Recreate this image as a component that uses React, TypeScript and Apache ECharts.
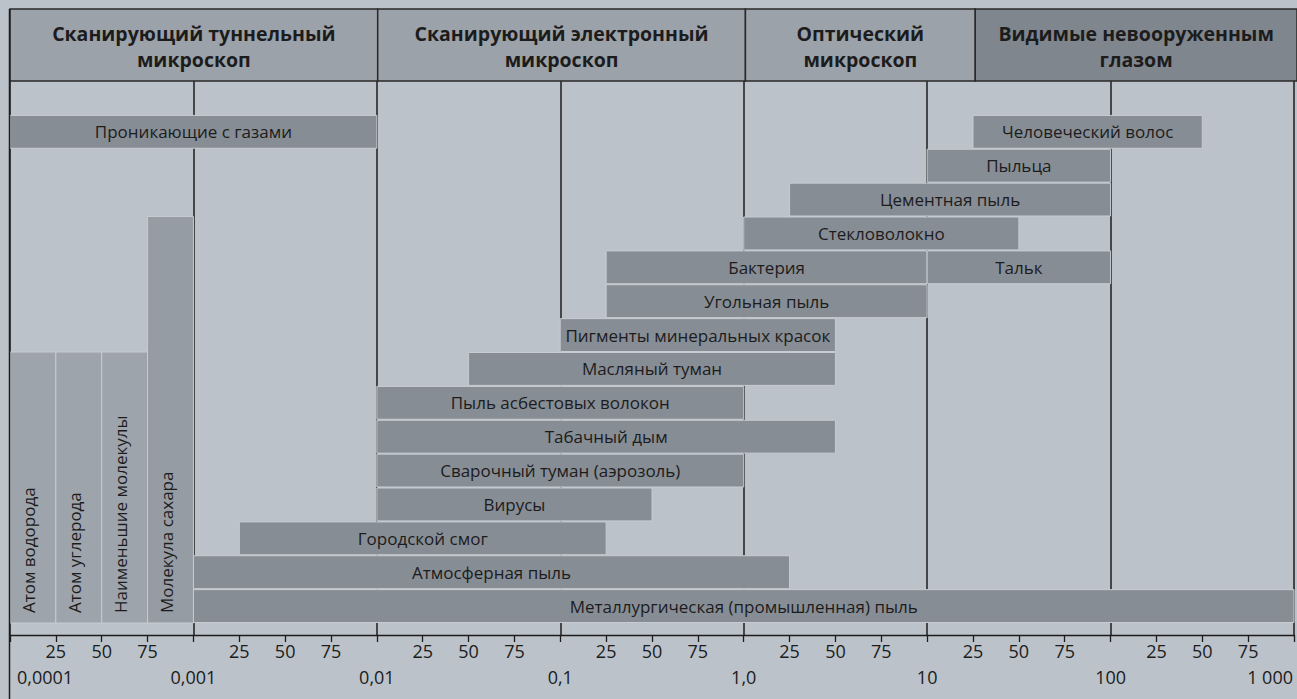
import React, { useEffect, useRef } from "react";
import * as echarts from "echarts";

// ---- Data ----
const decadeLabels = ["0,0001", "0,001", "0,01", "0,1", "1,0", "10", "100", "1 000"];
const minorLabels = ["25", "50", "75"];

const headerTitles = [
  "Сканирующий туннельный\nмикроскоп",
  "Сканирующий электронный\nмикроскоп",
  "Оптический\nмикроскоп",
  "Видимые невооруженным\nглазом",
];
const headerStarts = [0, 2, 4, 5.25];
const headerEnds = [2, 4, 5.25, 7];

const barNames = [
  "Проникающие с газами",
  "Человеческий волос",
  "Пыльца",
  "Цементная пыль",
  "Стекловолокно",
  "Бактерия",
  "Тальк",
  "Угольная пыль",
  "Пигменты минеральных красок",
  "Масляный туман",
  "Пыль асбестовых волокон",
  "Табачный дым",
  "Сварочный туман (аэрозоль)",
  "Вирусы",
  "Городской смог",
  "Атмосферная пыль",
  "Металлургическая (промышленная) пыль",
];
const barStarts = [0, 5.25, 5, 4.25, 4, 3.25, 5, 3.25, 3, 2.5, 2, 2, 2, 2, 1.25, 1, 1];
const barEnds = [2, 6.5, 6, 6, 5.5, 5, 6, 5, 4.5, 4.5, 4, 4.5, 4, 3.5, 3.25, 4.25, 7];
const barRows = [1, 1, 2, 3, 4, 5, 5, 6, 7, 8, 9, 10, 11, 12, 13, 14, 15];

const columnNames = ["Атом водорода", "Атом углерода", "Наименьшие молекулы", "Молекула сахара"];
const columnStarts = [0, 0.25, 0.5, 0.75];
const columnEnds = [0.25, 0.5, 0.75, 1];
const columnTopRows = [8, 8, 8, 4];
const columnBottomRows = [16, 16, 16, 16];

const ROWS_MAX = 16.354;
const FONT = "'Open Sans', 'DejaVu Sans', sans-serif";
const INK = "#1c1c1c";

export default function App() {
  const ref = useRef<HTMLDivElement>(null);

  useEffect(() => {
    document.body.style.margin = "0";
    const chart = echarts.init(ref.current!, null, { renderer: "svg" });

    const barData = barNames.map((_, i) => [barStarts[i], barEnds[i], barRows[i], barRows[i] + 1]);
    const colData = columnNames.map((_, i) => [columnStarts[i], columnEnds[i], columnTopRows[i], columnBottomRows[i]]);
    const headData = headerTitles.map((_, i) => [headerStarts[i], headerEnds[i], 0, 1]);

    const hidden = {
      show: false,
      axisLine: { show: false },
      axisTick: { show: false },
      axisLabel: { show: false },
      splitLine: { show: false },
    };

    const option: any = {
      animation: false,
      backgroundColor: "#bbc2c9",
      grid: [
        { left: 10, top: 81, width: 1290, height: 554 },
        { left: 10, top: 9, width: 1290, height: 72 },
      ],
      xAxis: [
        {
          type: "value",
          gridIndex: 0,
          min: 0,
          max: 7,
          interval: 0.25,
          position: "bottom",
          axisLine: { show: true, onZero: false, lineStyle: { color: INK, width: 1.3 } },
          axisTick: { show: true, inside: false, length: 7, lineStyle: { color: INK, width: 1.3 } },
          splitLine: { show: false },
          minorTick: { show: false },
          axisLabel: {
            margin: 7,
            color: INK,
            fontSize: 18,
            fontFamily: FONT,
            formatter: (v: number) => {
              const f = Math.round((v - Math.floor(v)) * 4);
              return f === 0 ? "" : minorLabels[f - 1];
            },
          },
        },
        {
          type: "value",
          gridIndex: 0,
          min: 0,
          max: 7,
          interval: 1,
          position: "bottom",
          axisLine: { show: false, onZero: false },
          axisTick: { show: false },
          minorTick: { show: false },
          splitLine: { show: true, lineStyle: { color: INK, width: 1.5 } },
          axisLabel: {
            margin: 33,
            color: INK,
            fontSize: 18,
            fontFamily: FONT,
            alignMinLabel: "left",
            alignMaxLabel: "right",
            formatter: (v: number) => {
              const i = Math.round(v);
              if (i === 0) return "{first|" + decadeLabels[i] + "}";
              if (i === decadeLabels.length - 1) return "{last|" + decadeLabels[i] + "}";
              return decadeLabels[i];
            },
            rich: {
              first: { padding: [0, 0, 0, 7], fontSize: 18, color: INK, fontFamily: FONT },
              last: { padding: [0, 1, 0, 0], fontSize: 18, color: INK, fontFamily: FONT },
            },
          },
        },
        { type: "value", gridIndex: 1, min: 0, max: 7, position: "top", ...hidden },
      ],
      yAxis: [
        {
          type: "value",
          gridIndex: 0,
          min: 0,
          max: ROWS_MAX,
          inverse: true,
          axisLine: { show: false },
          axisTick: { show: false },
          axisLabel: { show: false },
          splitLine: { show: false },
        },
        { type: "value", gridIndex: 1, min: 0, max: 1, inverse: true, ...hidden },
      ],
      graphic: [
        {
          type: "line",
          shape: { x1: 9.5, y1: 9, x2: 9.5, y2: 699 },
          style: { stroke: INK, lineWidth: 1.5 },
          z: 100,
        },
      ],
      series: [
        {
          type: "custom",
          name: "header",
          xAxisIndex: 2,
          yAxisIndex: 1,
          clip: false,
          data: headData,
          encode: { x: [0, 1], y: [2, 3] },
          renderItem: (params: any, api: any) => {
            const i = params.dataIndex;
            const p0 = api.coord([api.value(0), api.value(2)]);
            const p1 = api.coord([api.value(1), api.value(3)]);
            return {
              type: "group",
              children: [
                {
                  type: "rect",
                  shape: { x: p0[0], y: p0[1], width: p1[0] - p0[0], height: p1[1] - p0[1] },
                  style: { fill: i === 3 ? "#80868e" : "#9ca2a9", stroke: "#2a2a2a", lineWidth: 1.5 },
                },
                {
                  type: "text",
                  style: {
                    text: headerTitles[i],
                    x: (p0[0] + Math.min(p1[0], 1297)) / 2,
                    y: (p0[1] + p1[1]) / 2 + 1,
                    align: "center",
                    verticalAlign: "middle",
                    fontFamily: FONT,
                    fontWeight: "bold",
                    fontSize: 19.5,
                    lineHeight: 26,
                    fill: INK,
                  },
                },
              ],
            };
          },
        },
        {
          type: "custom",
          name: "bars",
          xAxisIndex: 0,
          yAxisIndex: 0,
          clip: false,
          data: barData,
          encode: { x: [0, 1], y: [2, 3] },
          z: 3,
          renderItem: (params: any, api: any) => {
            const i = params.dataIndex;
            const p0 = api.coord([api.value(0), api.value(2)]);
            const p1 = api.coord([api.value(1), api.value(3)]);
            const right = Math.min(p1[0], 1297);
            return {
              type: "group",
              children: [
                {
                  type: "rect",
                  shape: { x: p0[0], y: p0[1] + 0.5, width: p1[0] - p0[0], height: p1[1] - p0[1] - 1 },
                  style: { fill: "#878d95", stroke: "#c6ccd2", lineWidth: 1 },
                },
                {
                  type: "text",
                  style: {
                    text: barNames[i],
                    x: (p0[0] + right) / 2,
                    y: (p0[1] + p1[1]) / 2,
                    align: "center",
                    verticalAlign: "middle",
                    fontFamily: FONT,
                    fontSize: 17,
                    fill: INK,
                  },
                },
              ],
            };
          },
        },
        {
          type: "custom",
          name: "columns",
          xAxisIndex: 0,
          yAxisIndex: 0,
          clip: false,
          data: colData,
          encode: { x: [0, 1], y: [2, 3] },
          z: 3,
          renderItem: (params: any, api: any) => {
            const i = params.dataIndex;
            const p0 = api.coord([api.value(0), api.value(2)]);
            const p1 = api.coord([api.value(1), api.value(3)]);
            const bottom = api.coord([0, 16])[1];
            return {
              type: "group",
              children: [
                {
                  type: "rect",
                  shape: { x: p0[0], y: p0[1], width: p1[0] - p0[0], height: bottom - p0[1] },
                  style: { fill: i === 3 ? "#969ca3" : "#9ea4ab", stroke: "#c6ccd2", lineWidth: 1 },
                },
                {
                  type: "text",
                  x: (p0[0] + p1[0]) / 2 - 4,
                  y: bottom - 10,
                  rotation: Math.PI / 2,
                  style: {
                    text: columnNames[i],
                    x: 0,
                    y: 0,
                    align: "left",
                    verticalAlign: "middle",
                    fontFamily: FONT,
                    fontSize: 17,
                    fill: INK,
                  },
                },
              ],
            };
          },
        },
      ],
    };

    chart.setOption(option);
    return () => chart.dispose();
  }, []);

  return (
    <div
      ref={ref}
      style={{ width: 1297, height: 699, position: "absolute", left: 0, top: 0 }}
    />
  );
}
